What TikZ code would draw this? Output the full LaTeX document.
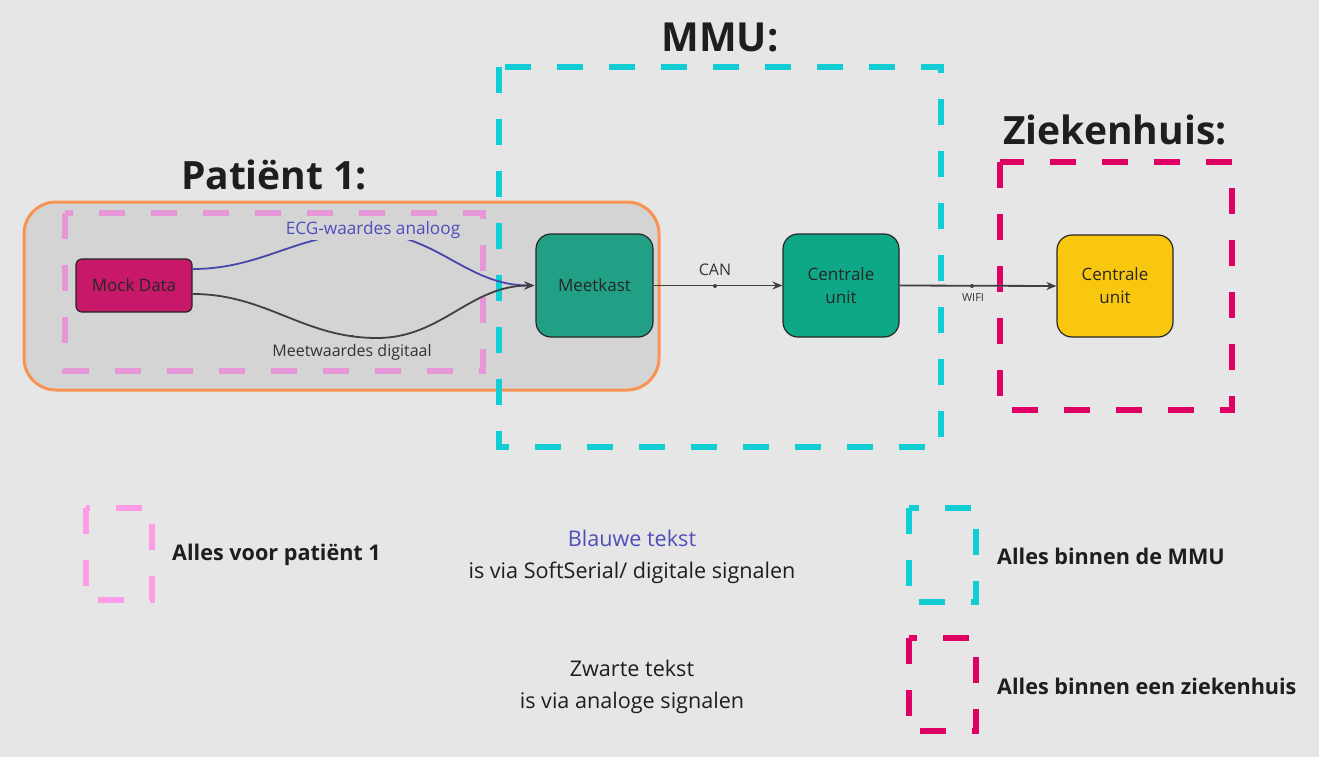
\documentclass[tikz,border=0pt]{standalone}
\usepackage{fontspec}
\setmainfont{Open Sans}
\usetikzlibrary{arrows.meta}
\definecolor{bg}{HTML}{E6E6E6}
\definecolor{patfill}{HTML}{D4D4D4}
\definecolor{patorange}{HTML}{F79454}
\definecolor{patpink}{HTML}{E697D7}
\definecolor{legpink}{HTML}{FF9CE6}
\definecolor{mmucyan}{HTML}{12CDD4}
\definecolor{zhpink}{HTML}{DE0062}
\definecolor{mockfill}{HTML}{C8186A}
\definecolor{meetfill}{HTML}{22A085}
\definecolor{cufill}{HTML}{0EA886}
\definecolor{yellowfill}{HTML}{F9C80E}
\definecolor{edgedark}{HTML}{404040}
\definecolor{bluetext}{HTML}{4F4FBC}
\definecolor{textdark}{HTML}{1E1E1E}
\tikzset{
  heading/.style={font=\fontsize{39}{46}\selectfont\bfseries, text=textdark, inner sep=0pt},
  groupdash/.style={line width=5.5pt, dash pattern=on 26pt off 26pt},
  blockbox/.style={draw=black!85, line width=1.2pt, rounded corners=15pt, text=black!85,
    font=\fontsize{17}{23}\selectfont, align=center, inner sep=0pt},
  flow/.style={line width=1.8pt, draw=edgedark, -{Stealth[length=10pt,width=8pt]}},
  smalllabel/.style={font=\fontsize{16}{20}\selectfont, text=black!80, inner sep=1pt},
  legendtext/.style={font=\fontsize{21.6}{26}\selectfont\bfseries, text=textdark, anchor=west, inner sep=0pt},
  notetext/.style={font=\fontsize{21.6}{32}\selectfont, align=center, inner sep=0pt},
  labeldot/.style={circle, fill=edgedark, inner sep=0pt, minimum size=4pt}
}
\begin{document}
\begin{tikzpicture}[x=1pt,y=-1pt]
\fill[bg] (0,0) rectangle (1319,757);
\useasboundingbox (0,0) rectangle (1319,757);

% headings
\node[heading] (hpat) at (274,175) {Patiënt 1:};
\node[heading, font=\fontsize{40}{48}\selectfont\bfseries] (hmmu) at (720,37) {MMU:};
\node[heading] (hzh) at (1115,130) {Ziekenhuis:};

% patient group
\draw[patorange, fill=patfill, line width=3pt, rounded corners=32pt] (24,202) rectangle (659,390);
\draw[patpink, groupdash] (65,213) rectangle (483,371);

% MMU group
\draw[mmucyan, groupdash] (499,67) rectangle (941,447);

% hospital group
\draw[zhpink, groupdash] (1000,162) rectangle (1232,410);

% blocks
\node[blockbox, fill=mockfill, rounded corners=6pt, minimum width=116pt, minimum height=53pt] (mock) at (134,285.5) {Mock Data};
\node[blockbox, fill=meetfill, minimum width=117pt, minimum height=103pt] (meet) at (594.5,285.5) {Meetkast};
\node[blockbox, fill=cufill, minimum width=116pt, minimum height=103pt] (cu) at (841,285.5) {Centrale\\unit};
\node[blockbox, fill=yellowfill, minimum width=116pt, minimum height=102pt] (cuzh) at (1115,286) {Centrale\\unit};

% curves from mock data to meetkast
\coordinate (ecgtop) at (368,233);
\coordinate (digbot) at (377,338);
\draw[flow, draw=bluetext!90!black] ([yshift=16.5pt]mock.east) to[out=0,in=180] (ecgtop) to[out=0,in=180] ([xshift=-1pt]meet.west);
\draw[flow] ([yshift=-8.5pt]mock.east) to[out=0,in=180] (digbot) to[out=0,in=180] ([xshift=-1pt]meet.west);
\node[smalllabel, font=\fontsize{17.2}{21}\selectfont, text=bluetext, fill=patfill, inner xsep=2pt, inner ysep=1pt] (ecglbl) at (373,230) {ECG-waardes analoog};
\node[smalllabel] (diglbl) at (352,352) {Meetwaardes digitaal};
\node[labeldot, minimum size=3pt] (digdot) at (352,336) {};

% links
\draw[flow] (meet.east) -- (cu.west);
\draw[flow] (cu.east) -- (cuzh.west);
\node[labeldot] (candot) at (715,286) {};
\node[smalllabel] (canlbl) at (715,270) {CAN};
\node[labeldot] (wifidot) at (972,286) {};
\node[smalllabel, font=\fontsize{11}{13}\selectfont] (wifilbl) at (973,298) {WIFI};

% legend
\draw[legpink, groupdash] (86,508) rectangle (152,600);
\node[legendtext] (legpat) at (172,555) {Alles voor patiënt 1};
\draw[mmucyan, groupdash] (909,508) rectangle (976,602);
\node[legendtext] (legmmu) at (997,556) {Alles binnen de MMU};
\draw[zhpink, groupdash] (909,638) rectangle (976,731);
\node[legendtext] (legzh) at (997,686) {Alles binnen een ziekenhuis};

\node[notetext] (noteblue) at (632,557) {\textcolor{bluetext}{Blauwe tekst}\\\textcolor{textdark}{is via SoftSerial/ digitale signalen}};
\node[notetext, text=textdark] (noteblack) at (632,687) {Zwarte tekst\\is via analoge signalen};
\end{tikzpicture}
\end{document}
